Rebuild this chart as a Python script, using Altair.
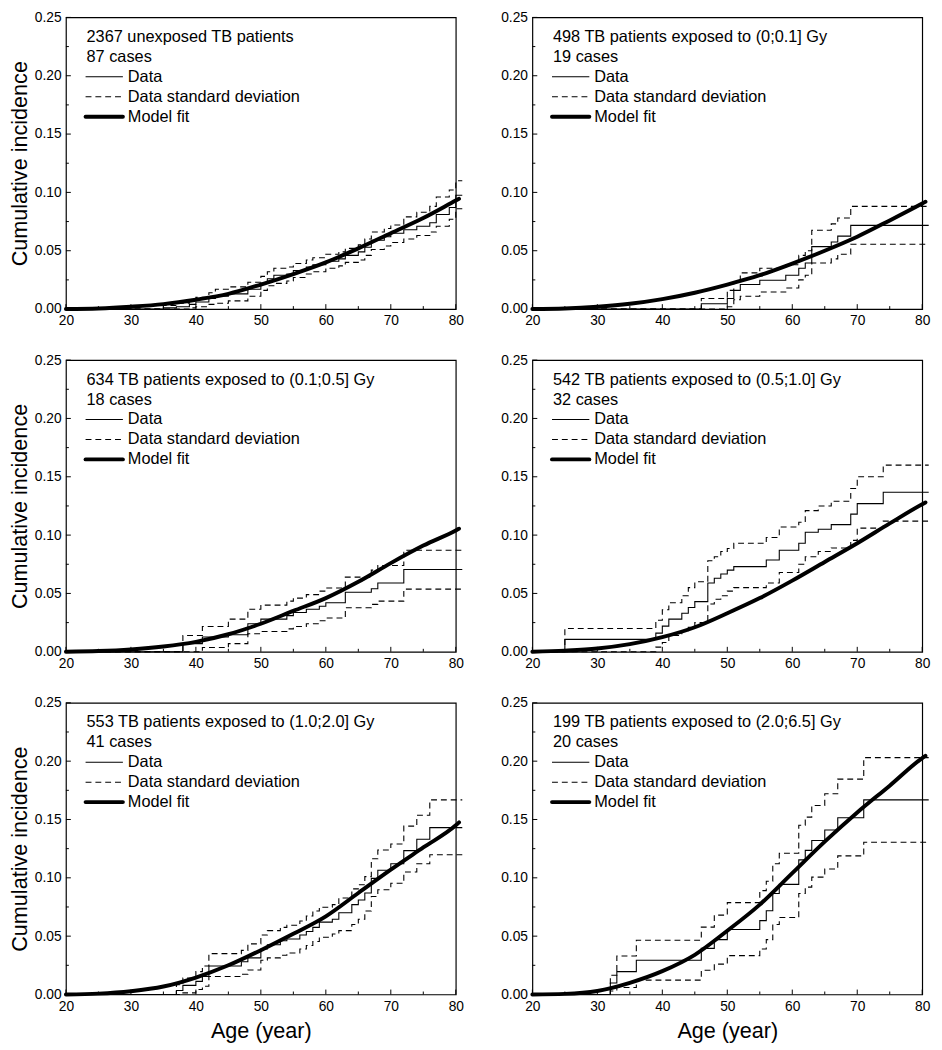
import altair as alt
import pandas as pd

FONT = "Liberation Sans"
W, H = 397, 297

# ---------------- shared axis values ----------------
X_MAJOR = [20, 30, 40, 50, 60, 70, 80]
X_MINOR = [25, 35, 45, 55, 65, 75]
Y_MAJOR = [0.0, 0.05, 0.10, 0.15, 0.20, 0.25]
Y_MINOR = [0.025, 0.075, 0.125, 0.175, 0.225]
MODEL_AGE = [20, 25, 30, 35, 40, 45, 50, 55, 60, 65, 70, 75, 80, 80.5]
LEGEND_LABELS = ["Data", "Data standard deviation", "Model fit"]

# ---------------- panel 1 ----------------
P1_TEXT = ["2367 unexposed TB patients", "87 cases"]
P1_AGE = [20, 35, 37, 39, 40, 42, 43, 45, 48, 50, 51, 52, 54, 55, 57, 58, 60, 62, 63, 65,
          66, 67, 69, 70, 72, 74, 76, 77, 79, 80, 81]
P1_DATA = [0, 0.001, 0.002, 0.004, 0.006, 0.009, 0.011, 0.013, 0.017, 0.022, 0.026, 0.029,
           0.030, 0.033, 0.036, 0.038, 0.041, 0.043, 0.046, 0.049, 0.053, 0.059, 0.062, 0.065,
           0.068, 0.071, 0.074, 0.081, 0.087, 0.0975, 0.0975]
P1_UP = [0, 0.003, 0.005, 0.008, 0.010, 0.014, 0.017, 0.019, 0.023, 0.028, 0.032, 0.035,
         0.036, 0.039, 0.042, 0.044, 0.047, 0.049, 0.052, 0.055, 0.060, 0.066, 0.069, 0.072,
         0.079, 0.083, 0.088, 0.096, 0.102, 0.110, 0.110]
P1_LO = [0, 0, 0, 0.001, 0.002, 0.004, 0.005, 0.007, 0.011, 0.016, 0.020, 0.022, 0.024,
         0.027, 0.030, 0.032, 0.035, 0.037, 0.040, 0.042, 0.046, 0.051, 0.054, 0.057, 0.060,
         0.063, 0.066, 0.071, 0.077, 0.086, 0.086]
P1_MODEL = [0, 0.0005, 0.002, 0.0042, 0.008, 0.013, 0.021, 0.030, 0.040, 0.052, 0.065,
            0.078, 0.093, 0.0945]

# ---------------- panel 2 ----------------
P2_TEXT = ["498 TB patients exposed to (0;0.1] Gy", "19 cases"]
P2_AGE = [20, 46, 50, 51, 52, 55, 59, 61, 62, 63, 66, 67, 69, 81]
P2_DATA = [0, 0.0045, 0.009, 0.016, 0.021, 0.0247, 0.029, 0.035, 0.0395, 0.0535, 0.0575,
           0.0625, 0.0717, 0.0717]
P2_UP = [0, 0.009, 0.016, 0.023, 0.031, 0.035, 0.038, 0.046, 0.050, 0.0675, 0.073, 0.078,
         0.088, 0.088]
P2_LO = [0, 0, 0.002, 0.008, 0.011, 0.0146, 0.018, 0.025, 0.029, 0.0395, 0.043, 0.047,
         0.0555, 0.0555]
P2_MODEL = [0, 0.0005, 0.002, 0.0045, 0.0085, 0.014, 0.021, 0.029, 0.039, 0.050, 0.062,
            0.076, 0.0905, 0.092]

# ---------------- panel 3 ----------------
P3_TEXT = ["634 TB patients exposed to (0.1;0.5] Gy", "18 cases"]
P3_AGE = [20, 38, 41, 45, 48, 50, 54, 55, 57, 59, 60, 63, 67, 68, 72, 81]
P3_DATA = [0, 0.007, 0.0126, 0.0146, 0.024, 0.028, 0.031, 0.0336, 0.0364, 0.039, 0.042,
           0.051, 0.054, 0.059, 0.0705, 0.0705]
P3_UP = [0, 0.014, 0.0216, 0.028, 0.0364, 0.040, 0.0434, 0.046, 0.049, 0.052, 0.0546,
         0.064, 0.070, 0.074, 0.087, 0.087]
P3_LO = [0, 0, 0.0036, 0.007, 0.0154, 0.0174, 0.0196, 0.0216, 0.024, 0.0266, 0.029,
         0.0378, 0.0406, 0.0434, 0.0537, 0.0537]
P3_MODEL = [0, 0.0006, 0.002, 0.0045, 0.0085, 0.015, 0.024, 0.035, 0.046, 0.060, 0.076,
            0.091, 0.104, 0.1055]

# ---------------- panel 4 ----------------
P4_TEXT = ["542 TB patients exposed to (0.5;1.0] Gy", "32 cases"]
P4_AGE = [20, 25, 39, 40, 41, 43, 44, 45, 47, 48, 49, 50, 51, 56, 58, 61, 62, 64, 66, 69,
          70, 74, 81]
P4_DATA = [0, 0.0106, 0.016, 0.022, 0.028, 0.033, 0.038, 0.043, 0.059, 0.063, 0.0667,
           0.070, 0.073, 0.0787, 0.087, 0.093, 0.1025, 0.105, 0.109, 0.118, 0.127, 0.1367,
           0.1367]
P4_UP = [0, 0.020, 0.027, 0.036, 0.042, 0.048, 0.055, 0.060, 0.078, 0.0815, 0.086, 0.0885,
         0.093, 0.098, 0.107, 0.111, 0.121, 0.125, 0.129, 0.140, 0.150, 0.160, 0.160]
P4_LO = [0, 0, 0.004, 0.008, 0.014, 0.018, 0.021, 0.025, 0.041, 0.045, 0.048, 0.052,
         0.055, 0.059, 0.068, 0.075, 0.0815, 0.086, 0.089, 0.0955, 0.106, 0.112, 0.112]
P4_MODEL = [0, 0.001, 0.0028, 0.0065, 0.0125, 0.021, 0.033, 0.046, 0.061, 0.077, 0.093,
            0.110, 0.1265, 0.128]

# ---------------- panel 5 ----------------
P5_TEXT = ["553 TB patients exposed to (1.0;2.0] Gy", "41 cases"]
P5_AGE = [20, 37, 38, 40, 41, 42, 47, 48, 50, 51, 53, 54, 56, 57, 58, 59, 61, 62, 64, 65,
          66, 67, 68, 70, 72, 74, 76, 81]
P5_DATA = [0, 0.0034, 0.0078, 0.0112, 0.0154, 0.0244, 0.028, 0.0314, 0.039, 0.0426, 0.046,
           0.0476, 0.051, 0.054, 0.0575, 0.062, 0.0645, 0.070, 0.077, 0.081, 0.087, 0.0995,
           0.1065, 0.112, 0.1233, 0.133, 0.143, 0.143]
P5_UP = [0, 0.0084, 0.014, 0.0196, 0.0244, 0.035, 0.0378, 0.0434, 0.051, 0.0547, 0.0575,
         0.0594, 0.063, 0.0673, 0.0715, 0.0748, 0.077, 0.0827, 0.0905, 0.094, 0.101, 0.1163,
         0.1239, 0.129, 0.1443, 0.1536, 0.1668, 0.1668]
P5_LO = [0, 0, 0.0014, 0.0042, 0.007, 0.0154, 0.0174, 0.021, 0.0294, 0.0314, 0.0336,
         0.0356, 0.039, 0.042, 0.0454, 0.049, 0.0518, 0.0547, 0.060, 0.0645, 0.0715, 0.084,
         0.0897, 0.0953, 0.105, 0.112, 0.1197, 0.1197]
P5_MODEL = [0, 0.0007, 0.0028, 0.0068, 0.0145, 0.025, 0.038, 0.052, 0.067, 0.087, 0.107,
            0.126, 0.145, 0.1475]

# ---------------- panel 6 ----------------
P6_TEXT = ["199 TB patients exposed to (2.0;6.5] Gy", "20 cases"]
P6_AGE = [20, 32, 33, 36, 46, 48, 50, 55, 56, 57, 58, 61, 62, 63, 65, 67, 71, 81]
P6_DATA = [0, 0.0098, 0.0196, 0.0294, 0.0395, 0.047, 0.0557, 0.0633, 0.0717, 0.0866,
           0.0944, 0.1154, 0.1235, 0.132, 0.141, 0.1515, 0.1668, 0.1668]
P6_UP = [0, 0.0165, 0.033, 0.0465, 0.0577, 0.068, 0.0787, 0.089, 0.097, 0.112, 0.121,
         0.145, 0.152, 0.162, 0.172, 0.1846, 0.203, 0.203]
P6_LO = [0, 0.003, 0.006, 0.0123, 0.0207, 0.026, 0.0333, 0.039, 0.047, 0.060, 0.066,
         0.0866, 0.092, 0.1006, 0.1076, 0.1188, 0.1305, 0.1305]
P6_MODEL = [0, 0.0005, 0.003, 0.010, 0.020, 0.034, 0.0546, 0.077, 0.104, 0.131, 0.156,
            0.179, 0.2026, 0.2045]

XSCALE = alt.Scale(domain=[20, 80], nice=False, zero=False, padding=0)
YSCALE = alt.Scale(domain=[0, 0.25], nice=False, zero=False, padding=0)


def panel(text, age, data, up, lo, model, ytitle, xtitle):
    xaxis_kw = dict(values=X_MAJOR, format="d", ticks=False, domain=False, grid=False,
                    labelFlush=False, labelOverlap=False,
                    labelPadding=5, labelFontSize=14, labelFont=FONT, labelColor="black",
                    titleFontSize=22, titleFont=FONT, titleFontWeight="normal",
                    titleColor="black", titlePadding=8)
    yaxis_kw = dict(values=Y_MAJOR, format=".2f", ticks=False, domain=False, grid=False,
                    labelFlush=False, labelOverlap=False,
                    labelPadding=5, labelFontSize=14, labelFont=FONT, labelColor="black",
                    titleFontSize=22, titleFont=FONT, titleFontWeight="normal",
                    titleColor="black", titlePadding=3)
    xaxis = alt.Axis(title="Age (year)", **xaxis_kw) if xtitle else alt.Axis(title=None, **xaxis_kw)
    yaxis = alt.Axis(title="Cumulative incidence", **yaxis_kw) if ytitle else alt.Axis(title=None, **yaxis_kw)

    def X(f):
        return alt.X(f, type="quantitative", scale=XSCALE, axis=xaxis)

    def Y(f):
        return alt.Y(f, type="quantitative", scale=YSCALE, axis=yaxis)

    n = len(age)
    band = pd.DataFrame({"age": age + age, "value": up + lo,
                         "series": ["upper"] * n + ["lower"] * n})
    dat = pd.DataFrame({"age": age, "value": data})
    mod = pd.DataFrame({"age": MODEL_AGE, "value": model})

    l_band = alt.Chart(band).mark_line(interpolate="step-after", color="black",
                                       strokeWidth=1.1, strokeDash=[6, 4]).encode(
        x=X("age"), y=Y("value"), detail="series:N")
    l_data = alt.Chart(dat).mark_line(interpolate="step-after", color="black",
                                      strokeWidth=1.1).encode(x=X("age"), y=Y("value"))
    l_model = alt.Chart(mod).mark_line(interpolate="monotone", color="black",
                                       strokeWidth=4, strokeCap="round").encode(
        x=X("age"), y=Y("value"))

    xt_major = alt.Chart(pd.DataFrame({"t": X_MAJOR})).mark_rule(color="black", strokeWidth=1).encode(
        x=X("t"), y=alt.value(H), y2=alt.value(H - 5))
    xt_minor = alt.Chart(pd.DataFrame({"t": X_MINOR})).mark_rule(color="black", strokeWidth=1).encode(
        x=X("t"), y=alt.value(H), y2=alt.value(H - 3))
    yt_major = alt.Chart(pd.DataFrame({"t": Y_MAJOR})).mark_rule(color="black", strokeWidth=1).encode(
        y=Y("t"), x=alt.value(0), x2=alt.value(5))
    yt_minor = alt.Chart(pd.DataFrame({"t": Y_MINOR})).mark_rule(color="black", strokeWidth=1).encode(
        y=Y("t"), x=alt.value(0), x2=alt.value(3))

    layers = [l_band, l_data, l_model, xt_major, xt_minor, yt_major, yt_minor]

    tstyle = dict(align="left", baseline="middle", font=FONT, fontSize=16.6, color="black")
    for i, line in enumerate(text):
        layers.append(alt.Chart(pd.DataFrame({"t": [line]})).mark_text(**tstyle).encode(
            text="t:N", x=alt.value(21), y=alt.value(20 + 20.3 * i)))
    for i, lab in enumerate(LEGEND_LABELS):
        yy = 60.5 + 20.3 * i
        layers.append(alt.Chart(pd.DataFrame({"t": [lab]})).mark_text(**tstyle).encode(
            text="t:N", x=alt.value(63), y=alt.value(yy)))
    legend_styles = [dict(strokeWidth=1.1), dict(strokeWidth=1.1, strokeDash=[6, 4]),
                     dict(strokeWidth=4, strokeCap="round")]
    for i, st in enumerate(legend_styles):
        yy = 60.5 + 20.3 * i
        layers.append(alt.Chart(pd.DataFrame({"t": [LEGEND_LABELS[i]]})).mark_rule(
            color="black", **st).encode(x=alt.value(20), x2=alt.value(58), y=alt.value(yy)))

    return alt.layer(*layers).properties(width=W, height=H)


p1 = panel(P1_TEXT, P1_AGE, P1_DATA, P1_UP, P1_LO, P1_MODEL, True, False)
p2 = panel(P2_TEXT, P2_AGE, P2_DATA, P2_UP, P2_LO, P2_MODEL, False, False)
p3 = panel(P3_TEXT, P3_AGE, P3_DATA, P3_UP, P3_LO, P3_MODEL, True, False)
p4 = panel(P4_TEXT, P4_AGE, P4_DATA, P4_UP, P4_LO, P4_MODEL, False, False)
p5 = panel(P5_TEXT, P5_AGE, P5_DATA, P5_UP, P5_LO, P5_MODEL, True, True)
p6 = panel(P6_TEXT, P6_AGE, P6_DATA, P6_UP, P6_LO, P6_MODEL, False, True)

chart = alt.vconcat(
    alt.hconcat(p1, p2, spacing=33),
    alt.hconcat(p3, p4, spacing=33),
    alt.hconcat(p5, p6, spacing=33),
    spacing=24,
).properties(
    padding={"left": 0, "top": -8, "right": 0, "bottom": 0},
    background="white",
).configure_view(stroke="black", strokeWidth=1.2)

chart.save("out.html", embed_options={"renderer": "svg", "actions": False})
